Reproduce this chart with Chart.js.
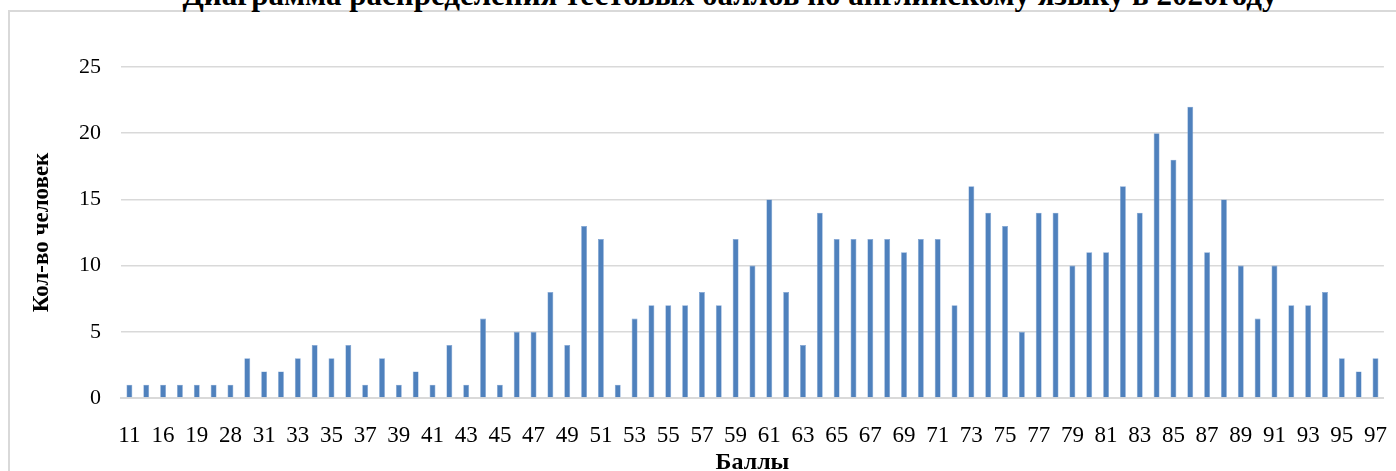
<!DOCTYPE html>
<html>
<head>
<meta charset="utf-8">
<script src="https://cdn.jsdelivr.net/npm/chart.js@4.4.1/dist/chart.umd.min.js"></script>
<style>
  body { margin: 0; background: #fff; overflow: hidden; }
  #wrap { position: relative; width: 1396px; height: 471px; overflow: hidden; }
  #frame { position: absolute; left: 8px; top: 10px; width: 1420px; height: 500px; border: 2px solid #d9d9d9; box-sizing: border-box; }
  #title { position: absolute; left: 0; width: 1460px; top: -23px; text-align: center; line-height: 31px;
           font: bold 31px "Liberation Serif", "Times New Roman", serif; color: #000; white-space: nowrap; }
  #chartBox { position: absolute; left: 0; top: 0; width: 1411px; height: 482px; }
</style>
</head>
<body>
<div id="wrap">
  <div id="frame"></div>
  <div id="title">Диаграмма распределения тестовых баллов по английскому языку в 2020году</div>
  <div id="chartBox"><canvas id="scoreChart"></canvas></div>
</div>
<script>
// Scores (x categories) - every other one is labelled on the axis
var scores = [11, 15, 16, 18, 19, 24, 28, 30,
  31, 32, 33, 34, 35, 36, 37, 38, 39, 40, 41, 42, 43, 44, 45, 46, 47, 48, 49, 50,
  51, 52, 53, 54, 55, 56, 57, 58, 59, 60, 61, 62, 63, 64, 65, 66, 67, 68, 69, 70,
  71, 72, 73, 74, 75, 76, 77, 78, 79, 80, 81, 82, 83, 84, 85, 86, 87, 88, 89, 90,
  91, 92, 93, 94, 95, 96, 97];

// Number of people per score
var people = [1, 1, 1, 1, 1, 1, 1, 3,
  2, 2, 3, 4, 3, 4, 1, 3, 1, 2, 1, 4, 1, 6, 1, 5, 5, 8, 4, 13,
  12, 1, 6, 7, 7, 7, 8, 7, 12, 10, 15, 8, 4, 14, 12, 12, 12, 12, 11, 12,
  12, 7, 16, 14, 13, 5, 14, 14, 10, 11, 11, 16, 14, 20, 18, 22, 11, 15, 10, 6,
  10, 7, 7, 8, 3, 2, 3];

var yTicks = [0, 5, 10, 15, 20, 25];

var serif = '"Liberation Serif", "Times New Roman", serif';

var ctx = document.getElementById('scoreChart').getContext('2d');
var scoreChart = new Chart(ctx, {
  type: 'bar',
  data: {
    labels: scores.map(String),
    datasets: [{
      label: 'Кол-во человек',
      data: people,
      backgroundColor: '#4f81bd',
      borderColor: '#7ea3d3',
      borderWidth: 0.6,
      categoryPercentage: 1,
      barPercentage: 0.35
    }]
  },
  options: {
    responsive: true,
    maintainAspectRatio: false,
    animation: false,
    layout: { padding: { left: 28, right: 0, top: 67, bottom: 0 } },
    plugins: {
      legend: { display: false },
      tooltip: { enabled: false }
    },
    scales: {
      x: {
        grid: { display: false, drawTicks: false },
        border: { display: true, color: '#d9d9d9', width: 2 },
        ticks: {
          autoSkip: false,
          maxRotation: 0,
          padding: 24,
          color: '#000',
          font: { family: serif, size: 23 },
          callback: function(value, index) {
            return index % 2 === 0 ? this.getLabelForValue(value) : '';
          }
        },
        title: {
          display: true,
          text: 'Баллы',
          color: '#000',
          font: { family: serif, size: 24, weight: 'bold' },
          padding: { top: 0, bottom: 5 }
        },
        afterFit: function(scale) { scale.height = 84; }
      },
      y: {
        min: 0,
        max: 25,
        afterBuildTicks: function(scale) {
          scale.ticks = yTicks.map(function(v) { return { value: v }; });
        },
        grid: { color: '#d9d9d9', lineWidth: 1.5, drawTicks: false },
        border: { display: false },
        ticks: {
          padding: 20,
          color: '#000',
          font: { family: serif, size: 22 }
        },
        title: {
          display: true,
          text: 'Кол-во человек',
          color: '#000',
          font: { family: serif, size: 23, weight: 'bold' },
          padding: { top: 0, bottom: 0 }
        },
        afterFit: function(scale) { scale.width = 93; }
      }
    }
  }
});
</script>
</body>
</html>
